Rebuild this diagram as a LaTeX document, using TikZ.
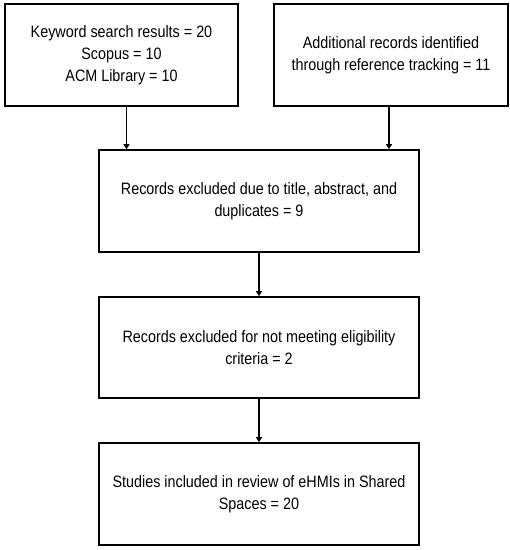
\documentclass[tikz,border=0pt]{standalone}
\usepackage{fontspec}
\setmainfont{Liberation Sans}[FakeStretch=0.87]
\usetikzlibrary{arrows.meta}
\begin{document}
\begin{tikzpicture}[x=1pt,y=-1pt,
  box/.style={draw=black, line width=1.6pt, align=center, inner sep=0pt,
    font=\fontsize{16.5}{22}\selectfont},
  arr/.style={-{Triangle[length=5pt,width=6pt]}, line width=1.4pt}]
\useasboundingbox (0,0) rectangle (510,550);
\node[box, minimum width=233pt, minimum height=102pt] (k) at (121.5,55)
  {Keyword search results = 20\\Scopus = 10\\ACM Library = 10};
\node[box, minimum width=234pt, minimum height=102pt] (a) at (391,55)
  {Additional records identified\\through reference tracking = 11};
\node[box, minimum width=320pt, minimum height=102pt] (r) at (259,201)
  {Records excluded due to title, abstract, and\\duplicates = 9};
\node[box, minimum width=320pt, minimum height=101pt] (e) at (259,347.5)
  {Records excluded for not meeting eligibility\\criteria = 2};
\node[box, minimum width=320pt, minimum height=102pt] (s) at (259,494)
  {Studies included in review of eHMIs in Shared\\Spaces = 20};
\draw[arr] (k.south -| 126.5,0) -- (r.north -| 126.5,0);
\draw[arr] (a.south -| 389,0) -- (r.north -| 389,0);
\draw[arr] (r) -- (e);
\draw[arr] (e) -- (s);
\end{tikzpicture}
\end{document}
